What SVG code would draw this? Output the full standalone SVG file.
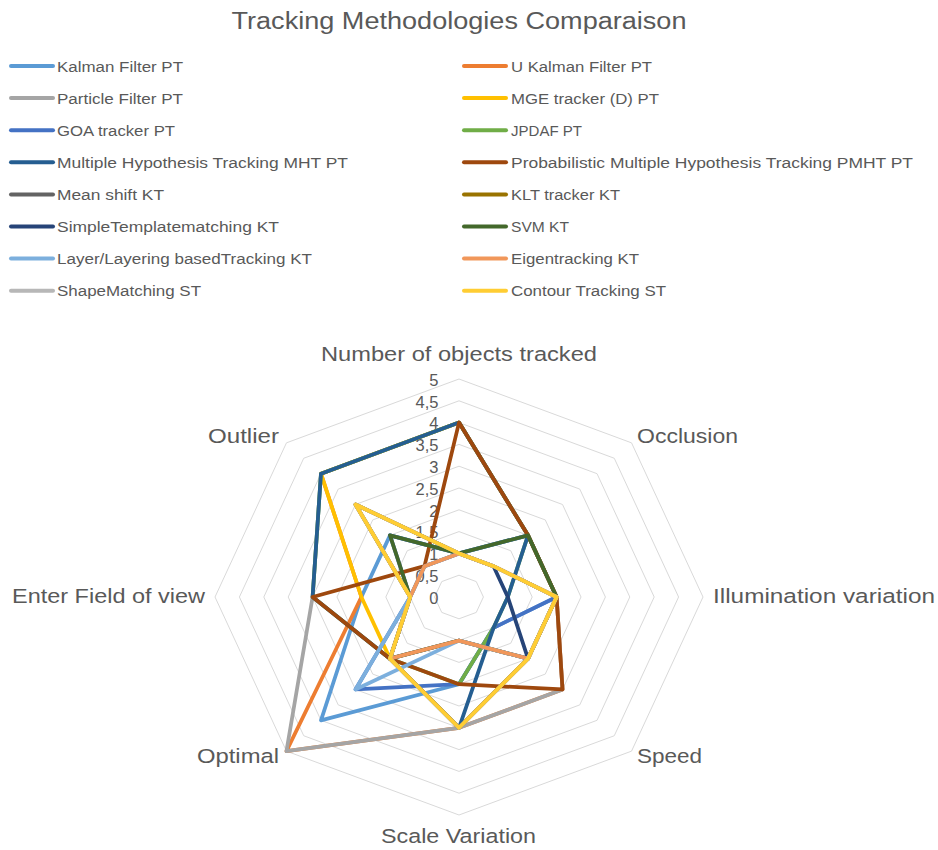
<svg xmlns="http://www.w3.org/2000/svg" width="938" height="850" viewBox="0 0 938 850">
<style>
text{font-family:"Liberation Sans",Arial,sans-serif;fill:#595959}
.title{font-size:23px}
.leg{font-size:15.5px}
.cat{font-size:20.5px}
.tick{font-size:16.5px;text-anchor:end}
.ring{fill:none;stroke:#D9D9D9;stroke-width:1}
.ser{fill:none;stroke-width:3.75;stroke-linejoin:round}
.ll{stroke-width:4;stroke-linecap:round}
</style>
<rect width="938" height="850" fill="#ffffff"/>
<g id="title"><text class="title" x="459" y="28.5" text-anchor="middle" textLength="455" lengthAdjust="spacingAndGlyphs">Tracking Methodologies Comparaison</text></g>
<g id="legend">
<g id="leg-1"><line class="ll" x1="11" y1="66" x2="53" y2="66" stroke="#5B9BD5"/><text class="leg" x="57" y="71.5" textLength="126" lengthAdjust="spacingAndGlyphs">Kalman Filter PT</text></g>
<g id="leg-2"><line class="ll" x1="464" y1="66" x2="506" y2="66" stroke="#ED7D31"/><text class="leg" x="511" y="71.5" textLength="141" lengthAdjust="spacingAndGlyphs">U Kalman Filter PT</text></g>
<g id="leg-3"><line class="ll" x1="11" y1="98.1" x2="53" y2="98.1" stroke="#A5A5A5"/><text class="leg" x="57" y="103.6" textLength="126" lengthAdjust="spacingAndGlyphs">Particle Filter PT</text></g>
<g id="leg-4"><line class="ll" x1="464" y1="98.1" x2="506" y2="98.1" stroke="#FFC000"/><text class="leg" x="511" y="103.6" textLength="148" lengthAdjust="spacingAndGlyphs">MGE tracker (D) PT</text></g>
<g id="leg-5"><line class="ll" x1="11" y1="130.2" x2="53" y2="130.2" stroke="#4472C4"/><text class="leg" x="57" y="135.7" textLength="118" lengthAdjust="spacingAndGlyphs">GOA tracker PT</text></g>
<g id="leg-6"><line class="ll" x1="464" y1="130.2" x2="506" y2="130.2" stroke="#70AD47"/><text class="leg" x="511" y="135.7" textLength="71" lengthAdjust="spacingAndGlyphs">JPDAF PT</text></g>
<g id="leg-7"><line class="ll" x1="11" y1="162.3" x2="53" y2="162.3" stroke="#255E91"/><text class="leg" x="57" y="167.8" textLength="291" lengthAdjust="spacingAndGlyphs">Multiple Hypothesis Tracking MHT PT</text></g>
<g id="leg-8"><line class="ll" x1="464" y1="162.3" x2="506" y2="162.3" stroke="#9E480E"/><text class="leg" x="511" y="167.8" textLength="402" lengthAdjust="spacingAndGlyphs">Probabilistic Multiple Hypothesis Tracking PMHT PT</text></g>
<g id="leg-9"><line class="ll" x1="11" y1="194.4" x2="53" y2="194.4" stroke="#636363"/><text class="leg" x="57" y="199.9" textLength="107" lengthAdjust="spacingAndGlyphs">Mean shift KT</text></g>
<g id="leg-10"><line class="ll" x1="464" y1="194.4" x2="506" y2="194.4" stroke="#997300"/><text class="leg" x="511" y="199.9" textLength="109" lengthAdjust="spacingAndGlyphs">KLT tracker KT</text></g>
<g id="leg-11"><line class="ll" x1="11" y1="226.5" x2="53" y2="226.5" stroke="#264478"/><text class="leg" x="57" y="232" textLength="222" lengthAdjust="spacingAndGlyphs">SimpleTemplatematching KT</text></g>
<g id="leg-12"><line class="ll" x1="464" y1="226.5" x2="506" y2="226.5" stroke="#43682B"/><text class="leg" x="511" y="232" textLength="58" lengthAdjust="spacingAndGlyphs">SVM KT</text></g>
<g id="leg-13"><line class="ll" x1="11" y1="258.6" x2="53" y2="258.6" stroke="#7CAFDD"/><text class="leg" x="57" y="264.1" textLength="255" lengthAdjust="spacingAndGlyphs">Layer/Layering basedTracking KT</text></g>
<g id="leg-14"><line class="ll" x1="464" y1="258.6" x2="506" y2="258.6" stroke="#F1975A"/><text class="leg" x="511" y="264.1" textLength="128" lengthAdjust="spacingAndGlyphs">Eigentracking KT</text></g>
<g id="leg-15"><line class="ll" x1="11" y1="290.7" x2="53" y2="290.7" stroke="#B7B7B7"/><text class="leg" x="57" y="296.2" textLength="144" lengthAdjust="spacingAndGlyphs">ShapeMatching ST</text></g>
<g id="leg-16"><line class="ll" x1="464" y1="290.7" x2="506" y2="290.7" stroke="#FFCD33"/><text class="leg" x="511" y="296.2" textLength="155" lengthAdjust="spacingAndGlyphs">Contour Tracking ST</text></g>
</g>
<g id="grid">
<polygon class="ring" points="459,575.2 476.25,581.59 483.4,597 476.25,612.42 459,618.8 441.75,612.42 434.6,597 441.75,581.59"/>
<polygon class="ring" points="459,553.4 493.51,566.17 507.8,597 493.51,627.83 459,640.6 424.49,627.83 410.2,597 424.49,566.17"/>
<polygon class="ring" points="459,531.6 510.76,550.76 532.2,597 510.76,643.25 459,662.4 407.24,643.25 385.8,597 407.24,550.76"/>
<polygon class="ring" points="459,509.8 528.01,535.34 556.6,597 528.01,658.66 459,684.2 389.99,658.66 361.4,597 389.99,535.34"/>
<polygon class="ring" points="459,488 545.27,519.93 581,597 545.27,674.08 459,706 372.73,674.08 337,597 372.73,519.93"/>
<polygon class="ring" points="459,466.2 562.52,504.51 605.4,597 562.52,689.49 459,727.8 355.48,689.49 312.6,597 355.48,504.51"/>
<polygon class="ring" points="459,444.4 579.77,489.1 629.8,597 579.77,704.9 459,749.6 338.23,704.9 288.2,597 338.23,489.1"/>
<polygon class="ring" points="459,422.6 597.03,473.68 654.2,597 597.03,720.32 459,771.4 320.97,720.32 263.8,597 320.97,473.68"/>
<polygon class="ring" points="459,400.8 614.28,458.26 678.6,597 614.28,735.74 459,793.2 303.72,735.74 239.4,597 303.72,458.26"/>
<polygon class="ring" points="459,379 631.54,442.85 703,597 631.54,751.15 459,815 286.46,751.15 215,597 286.46,442.85"/>
</g>
<g id="ticks">
<text class="tick" x="438.5" y="603.7">0</text>
<text class="tick" x="438.5" y="581.9">0,5</text>
<text class="tick" x="438.5" y="560.1">1</text>
<text class="tick" x="438.5" y="538.3">1,5</text>
<text class="tick" x="438.5" y="516.5">2</text>
<text class="tick" x="438.5" y="494.7">2,5</text>
<text class="tick" x="438.5" y="472.9">3</text>
<text class="tick" x="438.5" y="451.1">3,5</text>
<text class="tick" x="438.5" y="429.3">4</text>
<text class="tick" x="438.5" y="407.5">4,5</text>
<text class="tick" x="438.5" y="385.7">5</text>
</g>
<g id="categories">
<text class="cat" x="321" y="361" textLength="276" lengthAdjust="spacingAndGlyphs">Number of objects tracked</text>
<text class="cat" x="637" y="443" textLength="101" lengthAdjust="spacingAndGlyphs">Occlusion</text>
<text class="cat" x="713" y="603" textLength="222" lengthAdjust="spacingAndGlyphs">Illumination variation</text>
<text class="cat" x="637" y="763" textLength="65" lengthAdjust="spacingAndGlyphs">Speed</text>
<text class="cat" x="381" y="843" textLength="155" lengthAdjust="spacingAndGlyphs">Scale Variation</text>
<text class="cat" x="197" y="763" textLength="82" lengthAdjust="spacingAndGlyphs">Optimal</text>
<text class="cat" x="12" y="603" textLength="193" lengthAdjust="spacingAndGlyphs">Enter Field of view</text>
<text class="cat" x="208" y="443" textLength="71" lengthAdjust="spacingAndGlyphs">Outlier</text>
</g>
<g id="series">
<polygon id="s-kalman" class="ser" stroke="#5B9BD5" points="459,553.4 528.01,535.34 556.6,597 493.51,627.83 459,684.2 320.97,720.32 361.4,597 389.99,535.34"/>
<polygon id="s-ukalman" class="ser" stroke="#ED7D31" points="459,422.6 528.01,535.34 556.6,597 562.52,689.49 459,727.8 286.46,751.15 361.4,597 320.97,473.68"/>
<polygon id="s-particle" class="ser" stroke="#A5A5A5" points="459,422.6 528.01,535.34 556.6,597 562.52,689.49 459,727.8 286.46,751.15 312.6,597 320.97,473.68"/>
<polygon id="s-mge" class="ser" stroke="#FFC000" points="459,422.6 528.01,535.34 556.6,597 528.01,658.66 459,727.8 389.99,658.66 361.4,597 320.97,473.68"/>
<polygon id="s-goa" class="ser" stroke="#4472C4" points="459,553.4 528.01,535.34 556.6,597 493.51,627.83 459,684.2 355.48,689.49 410.2,597 389.99,535.34"/>
<polygon id="s-jpdaf" class="ser" stroke="#70AD47" points="459,422.6 528.01,535.34 507.8,597 493.51,627.83 459,684.2 389.99,658.66 312.6,597 320.97,473.68"/>
<polygon id="s-mht" class="ser" stroke="#255E91" points="459,422.6 528.01,535.34 507.8,597 493.51,627.83 459,727.8 389.99,658.66 312.6,597 320.97,473.68"/>
<polygon id="s-pmht" class="ser" stroke="#9E480E" points="459,422.6 528.01,535.34 556.6,597 562.52,689.49 459,684.2 389.99,658.66 312.6,597 424.49,566.17"/>
<polygon id="s-meanshift" class="ser" stroke="#636363" points="459,553.4 493.51,566.17 556.6,597 528.01,658.66 459,727.8 389.99,658.66 410.2,597 355.48,504.51"/>
<polygon id="s-klt" class="ser" stroke="#997300" points="459,553.4 493.51,566.17 556.6,597 528.01,658.66 459,727.8 389.99,658.66 410.2,597 355.48,504.51"/>
<polygon id="s-simpletm" class="ser" stroke="#264478" points="459,553.4 493.51,566.17 507.8,597 528.01,658.66 459,640.6 389.99,658.66 410.2,597 424.49,566.17"/>
<polygon id="s-svm" class="ser" stroke="#43682B" points="459,553.4 528.01,535.34 556.6,597 528.01,658.66 459,640.6 389.99,658.66 410.2,597 389.99,535.34"/>
<polygon id="s-layer" class="ser" stroke="#7CAFDD" points="459,553.4 493.51,566.17 556.6,597 528.01,658.66 459,640.6 355.48,689.49 410.2,597 424.49,566.17"/>
<polygon id="s-eigen" class="ser" stroke="#F1975A" points="459,553.4 493.51,566.17 556.6,597 528.01,658.66 459,640.6 389.99,658.66 410.2,597 424.49,566.17"/>
<polygon id="s-shape" class="ser" stroke="#B7B7B7" points="459,553.4 493.51,566.17 556.6,597 528.01,658.66 459,727.8 389.99,658.66 410.2,597 355.48,504.51"/>
<polygon id="s-contour" class="ser" stroke="#FFCD33" points="459,553.4 493.51,566.17 556.6,597 528.01,658.66 459,727.8 389.99,658.66 410.2,597 355.48,504.51"/>
</g>
</svg>
